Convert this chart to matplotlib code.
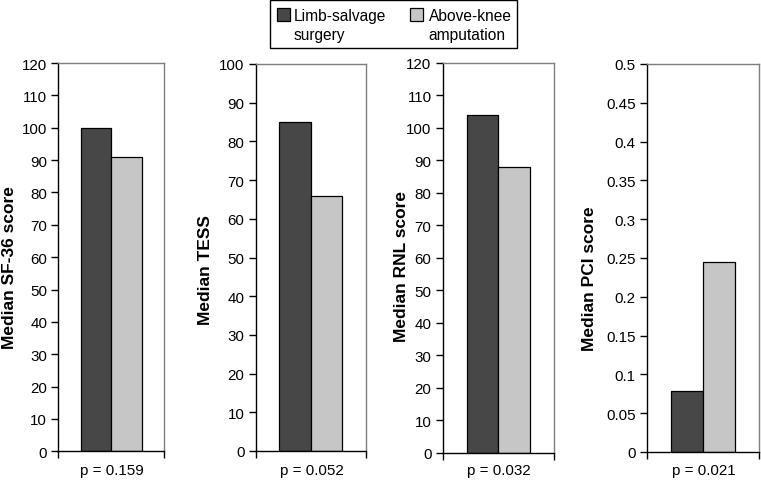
import matplotlib
matplotlib.use("Agg")
import matplotlib.pyplot as plt
from matplotlib.patches import Rectangle
from matplotlib.ticker import MultipleLocator, FuncFormatter

plt.rcParams['font.family'] = ['Liberation Sans', 'DejaVu Sans']

# ---- data ----
measures = ["Median SF-36 score", "Median TESS", "Median RNL score", "Median PCI score"]
limb_salvage = [100, 85, 104, 0.079]
above_knee = [91, 66, 88, 0.245]
p_labels = ["p = 0.159", "p = 0.052", "p = 0.032", "p = 0.021"]
y_max = [120, 100, 120, 0.5]
y_step = [10, 10, 10, 0.05]
series_names = ["Limb-salvage\nsurgery", "Above-knee\namputation"]

dark = "#474747"
light = "#c6c6c6"
colors = [dark, light]

W, H = 761, 481
fig = plt.figure(figsize=(W / 100, H / 100), dpi=100)


def fx(px):
    return px / W


def fy(py):
    return (H - py) / H


# axes pixel boxes: (left, top, right, bottom)
boxes = [(58.3, 64, 164.3, 452.3),
         (255.7, 65, 365.7, 452),
         (442.7, 63.5, 553.7, 454),
         (646.7, 65, 759, 453)]
ylabel_pos = [(10, 268), (205.5, 270), (401, 266.7), (590, 279)]

bw = 0.285
for i, (l, t, r, b) in enumerate(boxes):
    ax = fig.add_axes([fx(l), fy(b), (r - l) / W, (b - t) / H])
    ax.bar(-bw / 2, limb_salvage[i], width=bw, color=dark, edgecolor="black", linewidth=0.9)
    ax.bar(bw / 2, above_knee[i], width=bw, color=light, edgecolor="black", linewidth=0.9)
    ax.set_xlim(-0.5, 0.5)
    ax.set_ylim(0, y_max[i])
    ax.yaxis.set_major_locator(MultipleLocator(y_step[i]))
    ax.yaxis.set_major_formatter(FuncFormatter(lambda v, p: f"{round(v, 4):g}"))
    ax.set_xticks([-0.5, 0.5])
    ax.set_xticklabels(["", ""])
    ax.tick_params(axis="y", direction="out", length=5, width=1, labelsize=10.9, pad=3, colors="black")
    ax.tick_params(axis="x", direction="out", length=5, width=1)
    for s in ("left", "bottom"):
        ax.spines[s].set_color("black")
        ax.spines[s].set_linewidth(1)
    for s in ("top", "right"):
        ax.spines[s].set_color("#7f7f7f")
        ax.spines[s].set_linewidth(1)
    # y label (bold, rotated)
    lx, ly = ylabel_pos[i]
    fig.text(fx(lx), fy(ly), measures[i], rotation=90, ha="center", va="center",
             fontsize=12.5, fontweight="bold")
    # p-value under axis
    fig.text(fx((l + r) / 2 + 1), fy(471), p_labels[i], ha="center", va="center", fontsize=10.9)

# ---- legend (drawn manually to match layout) ----
fig.patches.append(Rectangle((fx(270), fy(49.3)), (517.3 - 270) / W, (49.3 - 0.8) / H,
                             transform=fig.transFigure, facecolor="white",
                             edgecolor="black", linewidth=1, zorder=0))
patch_x = [276.7, 409.5]
text_x = [294, 428.5]
for k in range(2):
    fig.patches.append(Rectangle((fx(patch_x[k]), fy(21.7)), 13 / W, 13 / H,
                                 transform=fig.transFigure, facecolor=colors[k],
                                 edgecolor="black", linewidth=0.9))
    fig.text(fx(text_x[k]), fy(40), series_names[k], ha="left", va="baseline",
             multialignment="left", fontsize=11.2, linespacing=1.32, zorder=5)

fig.savefig("out.png", dpi=100)
